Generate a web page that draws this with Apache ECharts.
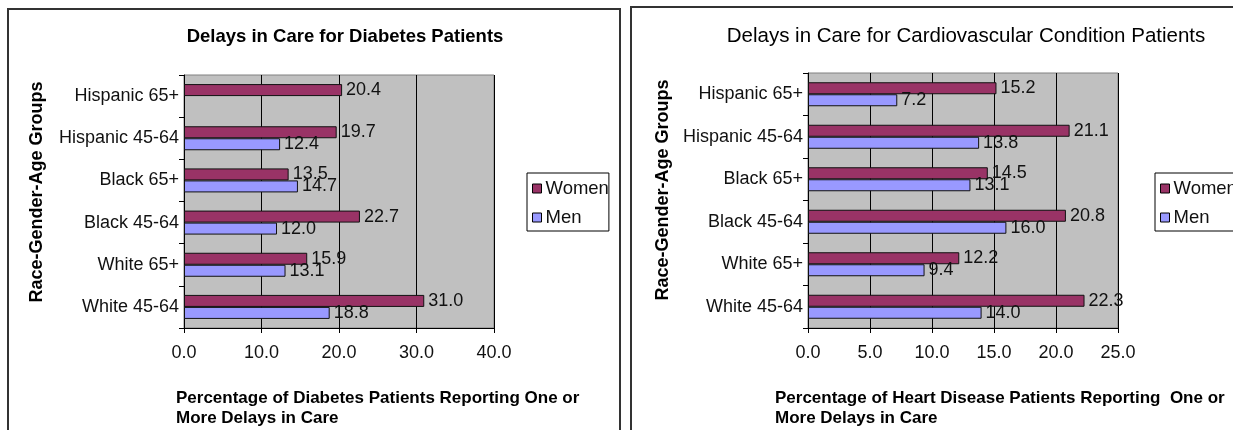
<!DOCTYPE html>
<html>
<head>
<meta charset="utf-8">
<script src="https://cdn.jsdelivr.net/npm/echarts@6/dist/echarts.min.js"></script>
<style>
  html, body { margin: 0; padding: 0; background: #fff; }
  #chart { width: 1233px; height: 430px; }
</style>
</head>
<body>
<div id="chart"></div>
<script>
// Race-gender-age groups, listed from the bottom of the axis to the top
const groups = ['White 45-64', 'White 65+', 'Black 45-64', 'Black 65+', 'Hispanic 45-64', 'Hispanic 65+'];

// Diabetes patients reporting one or more delays in care (%)
const diabetesWomen = [31.0, 15.9, 22.7, 13.5, 19.7, 20.4];
const diabetesMen = [18.8, 13.1, 12.0, 14.7, 12.4, null];

// Cardiovascular condition patients reporting one or more delays in care (%)
const cardioWomen = [22.3, 12.2, 20.8, 14.5, 21.1, 15.2];
const cardioMen = [14.0, 9.4, 16.0, 13.1, 13.8, 7.2];

const seriesNames = ['Women', 'Men'];

const titles = {
  diabetes: 'Delays in Care for Diabetes Patients',
  cardio: 'Delays in Care for Cardiovascular Condition Patients',
  yName: 'Race-Gender-Age Groups',
  diabetesX: 'Percentage of Diabetes Patients Reporting One or\nMore Delays in Care',
  cardioX: 'Percentage of Heart Disease Patients Reporting  One or\nMore Delays in Care'
};

const WOMEN = '#993366';
const MEN = '#9999FF';
const FONT = 'Liberation Sans, Arial, sans-serif';

const chart = echarts.init(document.getElementById('chart'), null, { renderer: 'canvas' });

function valueAxis(gridIndex, max, interval) {
  return {
    type: 'value', gridIndex, min: 0, max, interval,
    axisLine: { show: true, lineStyle: { color: '#000', width: 1 } },
    axisTick: { show: true, length: 5, lineStyle: { color: '#000' } },
    axisLabel: { color: '#111', fontFamily: FONT, fontSize: 18, margin: 16,
      formatter: v => v.toFixed(1) },
    splitLine: { show: true, lineStyle: { color: '#000', width: 1 } }
  };
}

function categoryAxis(gridIndex) {
  return {
    type: 'category', gridIndex, data: groups,
    axisLine: { show: true, lineStyle: { color: '#000', width: 1 } },
    axisTick: { show: true, length: 5, lineStyle: { color: '#000' } },
    axisLabel: { color: '#111', fontFamily: FONT, fontSize: 18, margin: 5 },
    splitLine: { show: false }
  };
}

function barSeries(name, data, idx, color) {
  return {
    name, type: 'bar', data,
    xAxisIndex: idx, yAxisIndex: idx,
    barWidth: 12, barGap: '0%',
    itemStyle: { color, borderColor: '#111', borderWidth: 1 },
    label: {
      show: true, position: 'right', distance: 4,
      color: '#111', fontFamily: FONT, fontSize: 18,
      formatter: p => p.value.toFixed(1)
    }
  };
}

function legendAt(left, top) {
  return {
    orient: 'vertical', left, top,
    data: seriesNames, icon: 'rect',
    itemWidth: 9, itemHeight: 9, itemGap: 10,
    padding: [6, 0, 4, 5],
    borderColor: '#000', borderWidth: 1,
    itemStyle: { borderColor: '#000', borderWidth: 1 },
    textStyle: { color: '#111', fontFamily: FONT, fontSize: 18.5, padding: [0, 0, 0, -1] },
    selectedMode: false
  };
}

chart.setOption({
  animation: false,
  backgroundColor: '#fff',
  title: [
    { text: titles.diabetes, left: 340, top: 22, textAlign: 'center',
      textStyle: { fontFamily: FONT, fontWeight: 'bold', fontSize: 18.5, color: '#000' } },
    { text: titles.cardio, left: 961, top: 21, textAlign: 'center',
      textStyle: { fontFamily: FONT, fontWeight: 'normal', fontSize: 20.5, color: '#000' } },
    { text: titles.diabetesX, left: 171, top: 383,
      textStyle: { fontFamily: FONT, fontWeight: 'bold', fontSize: 17, lineHeight: 20, color: '#000' } },
    { text: titles.cardioX, left: 770, top: 383,
      textStyle: { fontFamily: FONT, fontWeight: 'bold', fontSize: 17, lineHeight: 20, color: '#000' } }
  ],
  legend: [legendAt(527, 173), legendAt(1155, 173)],
  grid: [
    { left: 184, top: 75, width: 310, height: 253, show: true,
      backgroundColor: '#C0C0C0', borderColor: '#808080', borderWidth: 1 },
    { left: 808, top: 73, width: 310, height: 255, show: true,
      backgroundColor: '#C0C0C0', borderColor: '#808080', borderWidth: 1 }
  ],
  xAxis: [valueAxis(0, 40, 10), valueAxis(1, 25, 5)],
  yAxis: [categoryAxis(0), categoryAxis(1)],
  series: [
    barSeries(seriesNames[0], diabetesWomen, 0, WOMEN),
    barSeries(seriesNames[1], diabetesMen, 0, MEN),
    barSeries(seriesNames[0], cardioWomen, 1, WOMEN),
    barSeries(seriesNames[1], cardioMen, 1, MEN)
  ],
  graphic: [
    // panel frames
    { type: 'rect', shape: { x: 8, y: 9, width: 612, height: 440 },
      style: { fill: 'none', stroke: '#333', lineWidth: 2 }, silent: true, z: -1 },
    { type: 'rect', shape: { x: 631, y: 7, width: 620, height: 440 },
      style: { fill: 'none', stroke: '#333', lineWidth: 2 }, silent: true, z: -1 },
    // rotated category-axis titles
    { type: 'text', x: 37, y: 192, rotation: Math.PI / 2,
      style: { text: titles.yName, fontFamily: FONT, fontWeight: 'bold', fontSize: 18,
        fill: '#000', textAlign: 'center', textVerticalAlign: 'middle' } },
    { type: 'text', x: 663, y: 190, rotation: Math.PI / 2,
      style: { text: titles.yName, fontFamily: FONT, fontWeight: 'bold', fontSize: 18,
        fill: '#000', textAlign: 'center', textVerticalAlign: 'middle' } }
  ]
});
</script>
</body>
</html>
